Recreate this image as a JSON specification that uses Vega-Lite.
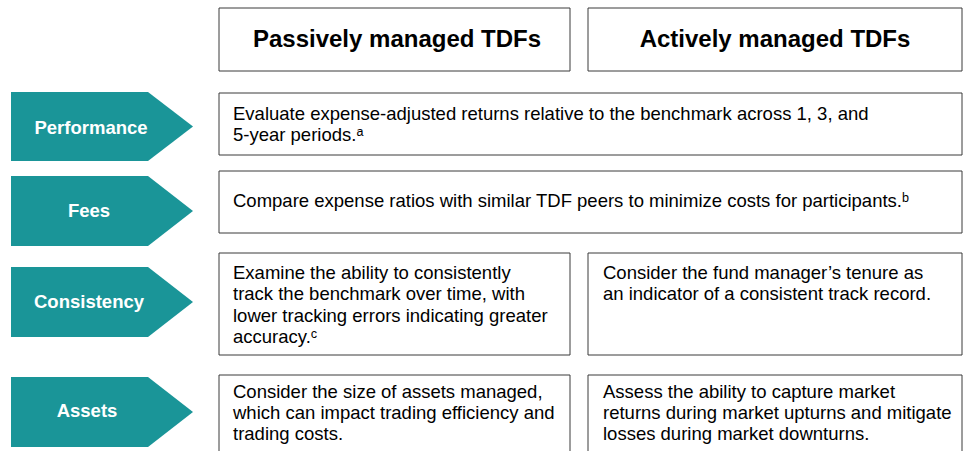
{
  "$schema": "https://vega.github.io/schema/vega-lite/v6.json",
  "width": 969,
  "height": 451,
  "padding": 0,
  "autosize": {"type": "fit", "contains": "padding"},
  "config": {"view": {"stroke": null}, "font": "Liberation Sans"},
  "datasets": {
    "boxes": [
      {"id": "h1", "x": 219, "x2": 570, "y": 8, "y2": 71},
      {"id": "h2", "x": 588, "x2": 962, "y": 8, "y2": 71},
      {"id": "perf", "x": 219, "x2": 962, "y": 93, "y2": 155},
      {"id": "fees", "x": 219, "x2": 962, "y": 171, "y2": 233},
      {"id": "cons1", "x": 219, "x2": 570, "y": 253, "y2": 355},
      {"id": "cons2", "x": 588, "x2": 962, "y": 253, "y2": 355},
      {"id": "ass1", "x": 219, "x2": 570, "y": 375, "y2": 470},
      {"id": "ass2", "x": 588, "x2": 962, "y": 375, "y2": 470}
    ],
    "arrows": [
      {"label": "Performance", "x": 11, "top": 92, "bottom": 161},
      {"label": "Performance", "x": 148, "top": 92, "bottom": 161},
      {"label": "Performance", "x": 193, "top": 126.5, "bottom": 126.5},
      {"label": "Fees", "x": 11, "top": 176, "bottom": 246},
      {"label": "Fees", "x": 148, "top": 176, "bottom": 246},
      {"label": "Fees", "x": 193, "top": 211, "bottom": 211},
      {"label": "Consistency", "x": 11, "top": 267, "bottom": 337},
      {"label": "Consistency", "x": 148, "top": 267, "bottom": 337},
      {"label": "Consistency", "x": 193, "top": 302, "bottom": 302},
      {"label": "Assets", "x": 11, "top": 377, "bottom": 447},
      {"label": "Assets", "x": 148, "top": 377, "bottom": 447},
      {"label": "Assets", "x": 193, "top": 412, "bottom": 412}
    ],
    "labels": [
      {"label": "Performance", "x": 91, "y": 128},
      {"label": "Fees", "x": 89, "y": 211},
      {"label": "Consistency", "x": 89, "y": 302},
      {"label": "Assets", "x": 87, "y": 411}
    ],
    "headers": [
      {"text": "Passively managed TDFs", "x": 397, "y": 40},
      {"text": "Actively managed TDFs", "x": 775, "y": 40}
    ],
    "body": [
      {"text": "Evaluate expense-adjusted returns relative to the benchmark across 1, 3, and", "x": 233, "y": 114},
      {"text": "5-year periods.ᵃ", "x": 233, "y": 135},
      {"text": "Compare expense ratios with similar TDF peers to minimize costs for participants.ᵇ", "x": 233, "y": 201},
      {"text": "Examine the ability to consistently", "x": 233, "y": 273},
      {"text": "track the benchmark over time, with", "x": 233, "y": 294},
      {"text": "lower tracking errors indicating greater", "x": 233, "y": 316},
      {"text": "accuracy.ᶜ", "x": 233, "y": 337},
      {"text": "Consider the fund manager’s tenure as", "x": 603, "y": 273},
      {"text": "an indicator of a consistent track record.", "x": 603, "y": 294},
      {"text": "Consider the size of assets managed,", "x": 233, "y": 392},
      {"text": "which can impact trading efficiency and", "x": 233, "y": 413},
      {"text": "trading costs.", "x": 233, "y": 434},
      {"text": "Assess the ability to capture market", "x": 603, "y": 392},
      {"text": "returns during market upturns and mitigate", "x": 603, "y": 413},
      {"text": "losses during market downturns.", "x": 603, "y": 434}
    ]
  },
  "layer": [
    {
      "data": {"name": "boxes"},
      "mark": {"type": "rect", "fill": "white", "stroke": "#3a3a3a", "strokeWidth": 1, "clip": true},
      "encoding": {
        "x": {"field": "x", "type": "quantitative", "scale": {"domain": [0, 969]}, "axis": null},
        "x2": {"field": "x2"},
        "y": {"field": "y", "type": "quantitative", "scale": {"domain": [0, 451], "reverse": true}, "axis": null},
        "y2": {"field": "y2"}
      }
    },
    {
      "data": {"name": "arrows"},
      "mark": {"type": "area", "color": "#1A9598", "interpolate": "linear"},
      "encoding": {
        "x": {"field": "x", "type": "quantitative", "scale": {"domain": [0, 969]}, "axis": null},
        "y": {"field": "top", "type": "quantitative", "scale": {"domain": [0, 451], "reverse": true}, "axis": null},
        "y2": {"field": "bottom"},
        "detail": {"field": "label"}
      }
    },
    {
      "data": {"name": "labels"},
      "mark": {"type": "text", "color": "white", "fontWeight": "bold", "fontSize": 18.5, "align": "center", "baseline": "middle"},
      "encoding": {
        "x": {"field": "x", "type": "quantitative", "scale": {"domain": [0, 969]}, "axis": null},
        "y": {"field": "y", "type": "quantitative", "scale": {"domain": [0, 451], "reverse": true}, "axis": null},
        "text": {"field": "label"}
      }
    },
    {
      "data": {"name": "headers"},
      "mark": {"type": "text", "color": "black", "fontWeight": "bold", "fontSize": 24, "align": "center", "baseline": "middle"},
      "encoding": {
        "x": {"field": "x", "type": "quantitative", "scale": {"domain": [0, 969]}, "axis": null},
        "y": {"field": "y", "type": "quantitative", "scale": {"domain": [0, 451], "reverse": true}, "axis": null},
        "text": {"field": "text"}
      }
    },
    {
      "data": {"name": "body"},
      "mark": {"type": "text", "color": "black", "fontSize": 18.5, "align": "left", "baseline": "middle"},
      "encoding": {
        "x": {"field": "x", "type": "quantitative", "scale": {"domain": [0, 969]}, "axis": null},
        "y": {"field": "y", "type": "quantitative", "scale": {"domain": [0, 451], "reverse": true}, "axis": null},
        "text": {"field": "text"}
      }
    }
  ]
}
